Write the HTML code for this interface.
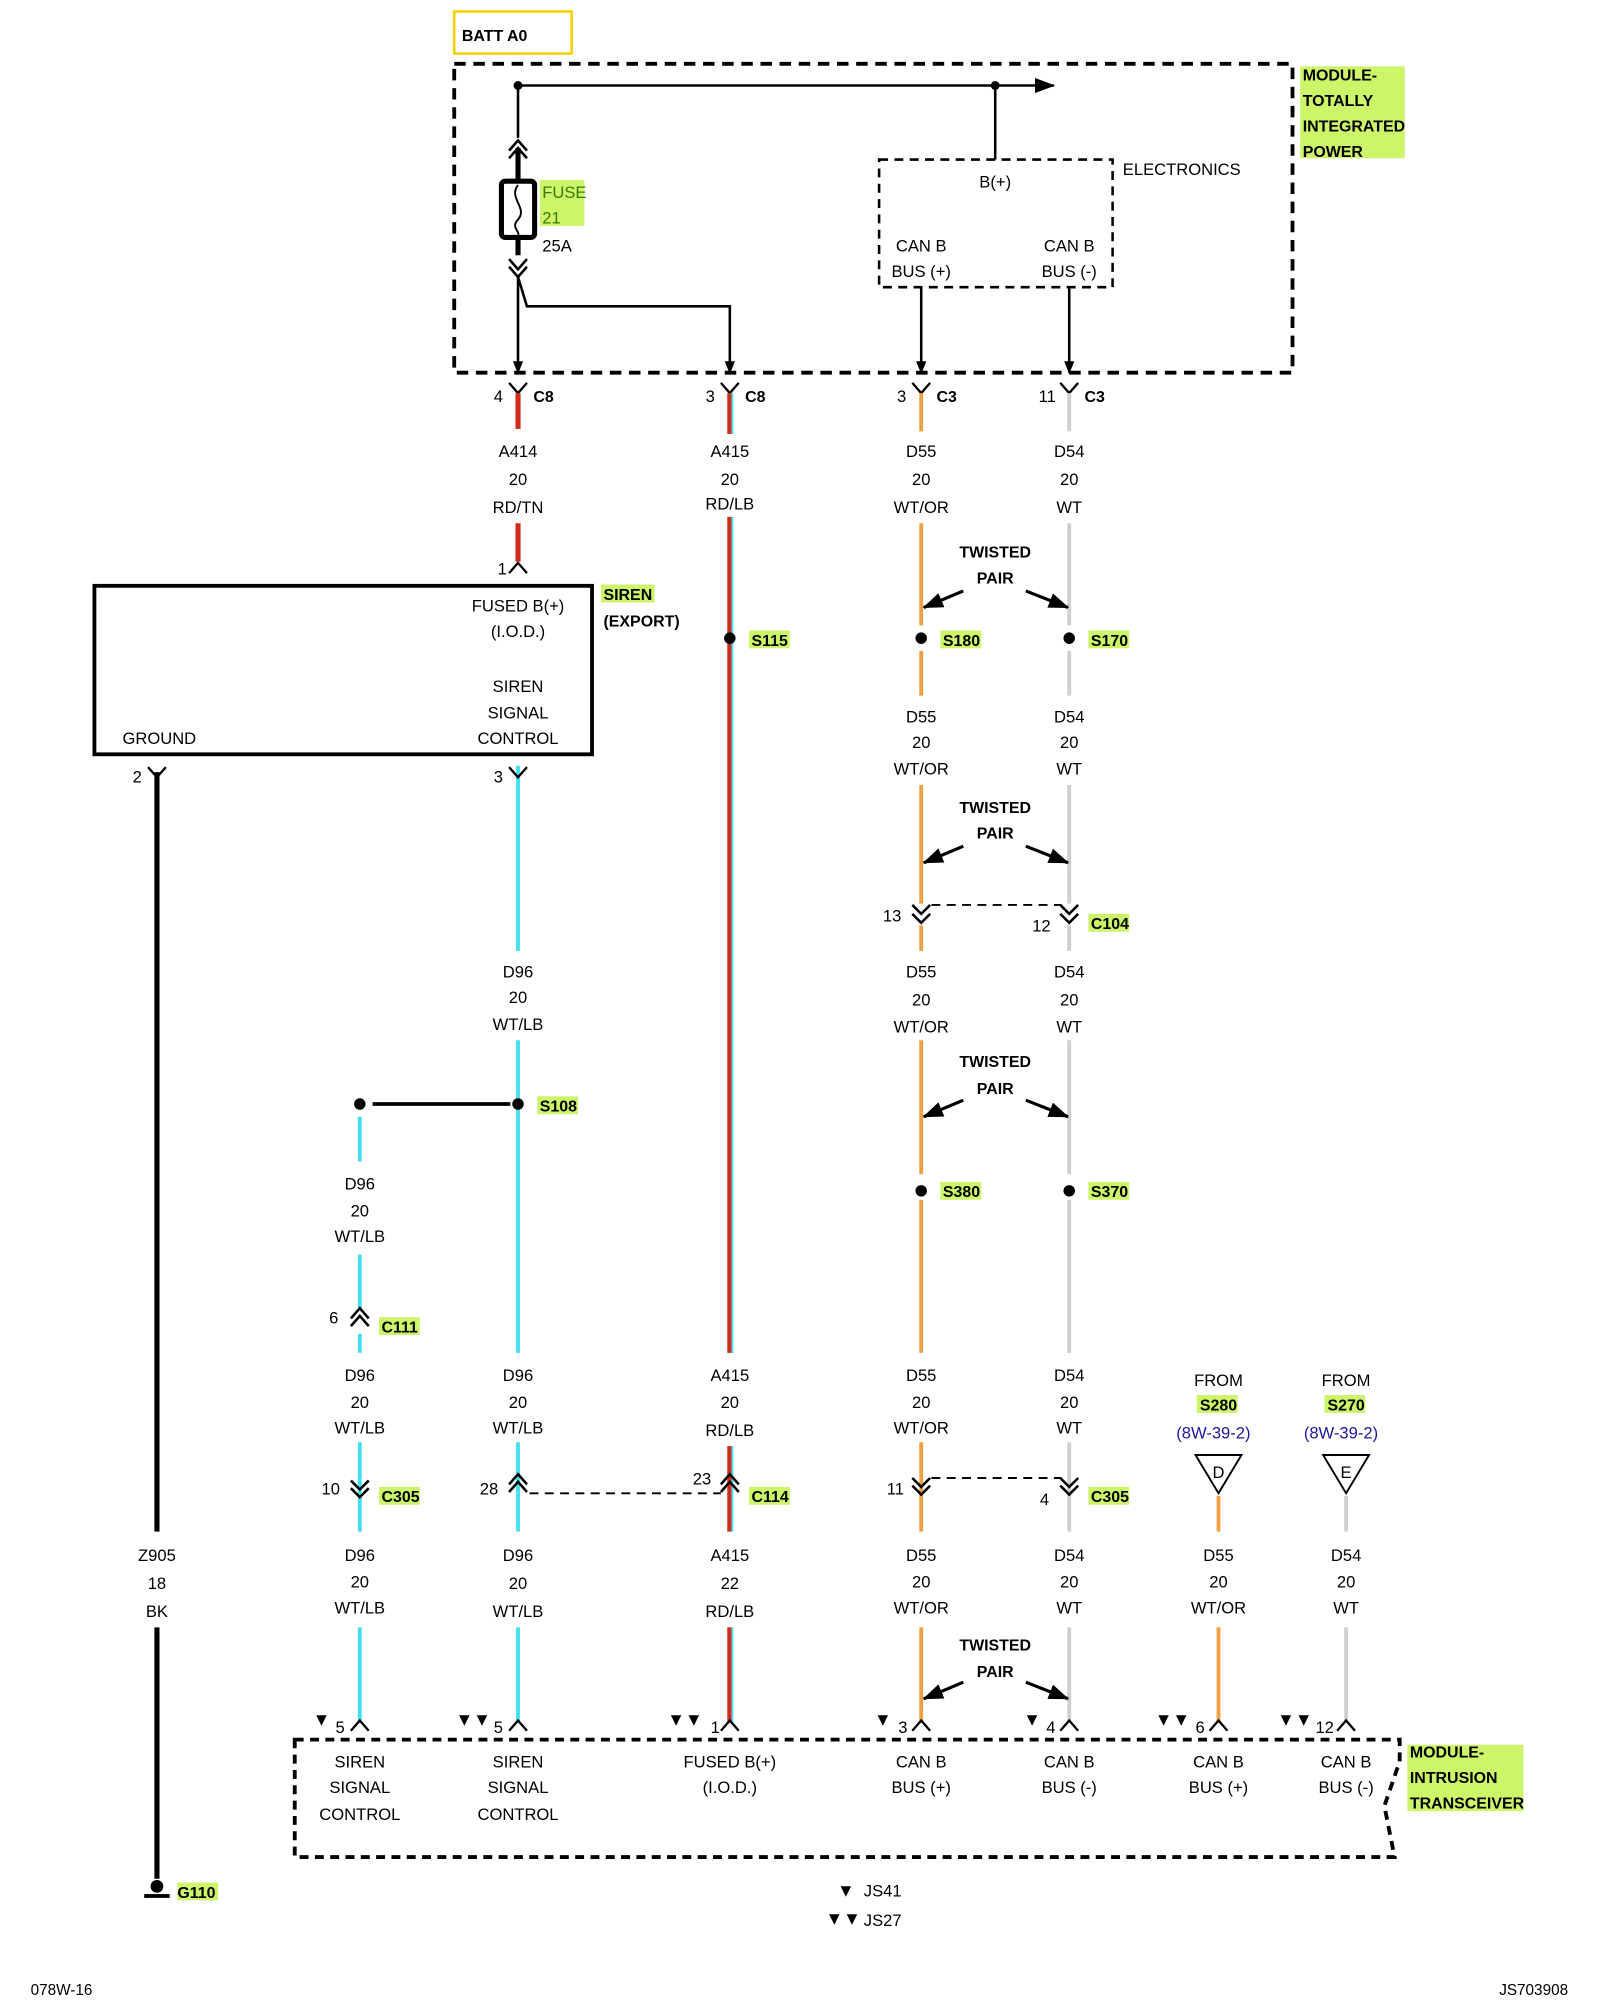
<!DOCTYPE html>
<html><head><meta charset="utf-8"><style>
html,body{margin:0;padding:0;background:#fff}
svg{display:block}
text{font-family:"Liberation Sans",sans-serif;font-size:13px;fill:#000}
.b{font-weight:bold;font-size:12.5px}
.m{text-anchor:middle}
.t{font-size:14px}
</style></head><body>
<svg width="1600" height="2000" viewBox="0 0 1254 1567" preserveAspectRatio="none" xmlns="http://www.w3.org/2000/svg">
<defs>
<marker id="ar" markerWidth="10" markerHeight="8" refX="9" refY="4" orient="auto" markerUnits="userSpaceOnUse"><path d="M0,0 L10,4 L0,8 z" fill="#000"/></marker>
<marker id="ap" markerWidth="16" markerHeight="12" refX="15" refY="6" orient="auto" markerUnits="userSpaceOnUse"><path d="M0,0 L16,6 L0,12 z" fill="#000"/></marker>
</defs>
<g fill="#ccf56a">
<rect x="1019" y="52" width="82" height="72"/>
<rect x="423" y="141" width="35" height="36"/>
<rect x="1103" y="1367" width="91" height="52"/>
<rect x="587" y="494" width="32" height="14"/><rect x="737" y="494" width="32" height="14"/><rect x="853" y="494" width="32" height="14"/>
<rect x="853" y="716" width="32" height="14"/><rect x="421" y="859" width="32" height="14"/>
<rect x="737" y="926" width="32" height="14"/><rect x="853" y="926" width="32" height="14"/>
<rect x="297" y="1032" width="32" height="14"/><rect x="297" y="1165" width="32" height="14"/>
<rect x="587" y="1165" width="32" height="14"/><rect x="853" y="1165" width="32" height="14"/>
<rect x="938" y="1093" width="32" height="14"/><rect x="1038" y="1093" width="32" height="14"/>
<rect x="139" y="1475" width="32" height="14"/><rect x="471" y="458" width="42" height="14"/>
</g>
<rect x="356" y="9" width="92" height="33" fill="none" stroke="#f5d000" stroke-width="2"/>
<text x="362" y="32" class="b">BATT A0</text>
<rect x="356" y="50" width="657" height="242" fill="none" stroke="#000" stroke-width="3" stroke-dasharray="9,6"/>
<text x="1021" y="63" class="b">MODULE-</text><text x="1021" y="83" class="b">TOTALLY</text><text x="1021" y="103" class="b">INTEGRATED</text><text x="1021" y="123" class="b">POWER</text>
<line x1="406" y1="67" x2="826" y2="67" stroke="#000" stroke-width="2" marker-end="url(#ap)"/>
<circle cx="406" cy="67" r="3.5"/><circle cx="780" cy="67" r="3.5"/>
<line x1="780" y1="67" x2="780" y2="125" stroke="#000" stroke-width="2"/>
<rect x="689" y="125" width="183" height="100" fill="none" stroke="#000" stroke-width="2" stroke-dasharray="7,5"/>
<text x="880" y="137">ELECTRONICS</text>
<text x="780" y="147" class="m">B(+)</text>
<text x="722" y="197" class="m">CAN B</text><text x="722" y="217" class="m">BUS (+)</text>
<text x="838" y="197" class="m">CAN B</text><text x="838" y="217" class="m">BUS (-)</text>
<line x1="406" y1="67" x2="406" y2="108" stroke="#000" stroke-width="2"/>
<path d="M399,118 L406,110 L413,118 M399,124 L406,116 L413,124" fill="none" stroke="#000" stroke-width="2"/>
<line x1="406" y1="116" x2="406" y2="200" stroke="#000" stroke-width="4"/>
<rect x="393" y="142" width="26" height="44" rx="3" fill="#fff" stroke="#000" stroke-width="4"/>
<path d="M406,145 C398,155 414,163 406,172 C400,178 408,182 406,184" fill="none" stroke="#000" stroke-width="1.5"/>
<text x="425" y="155" style="fill:#3a7a00">FUSE</text><text x="425" y="175" style="fill:#3a7a00">21</text>
<text x="425" y="197">25A</text>
<path d="M399,203 L406,211 L413,203 M399,209 L406,217 L413,209" fill="none" stroke="#000" stroke-width="2"/>
<line x1="406" y1="217" x2="406" y2="292" stroke="#000" stroke-width="2" marker-end="url(#ar)"/>
<polyline points="406,217 413,240 572,240 572,292" fill="none" stroke="#000" stroke-width="2" marker-end="url(#ar)"/>
<line x1="722" y1="225" x2="722" y2="292" stroke="#000" stroke-width="2" marker-end="url(#ar)"/>
<line x1="838" y1="225" x2="838" y2="292" stroke="#000" stroke-width="2" marker-end="url(#ar)"/>
<g fill="none" stroke="#000" stroke-width="1.8">
<path d="M399,300 L406,308 L413,300"/><path d="M565,300 L572,308 L579,300"/><path d="M715,300 L722,308 L729,300"/><path d="M831,300 L838,308 L845,300"/>
</g>
<text x="387" y="315">4</text><text x="418" y="315" class="b">C8</text>
<text x="553" y="315">3</text><text x="584" y="315" class="b">C8</text>
<text x="703" y="315">3</text><text x="734" y="315" class="b">C3</text>
<text x="814" y="315">11</text><text x="850" y="315" class="b">C3</text>
<g stroke-width="4" fill="none">
<path d="M406,308V336M406,410V440" stroke="#d42a1a"/>
<path d="M572,308V340M572,405V1060M572,1133V1200M572,1275V1350" stroke="#d42a1a"/>
<path d="M722,308V338M722,410V490M722,510V545M722,615V708M722,725V745M722,815V920M722,940V1060M722,1130V1200M722,1275V1350M955,1172V1200M955,1275V1350" stroke="#f0a040" stroke-width="3"/>
<path d="M838,308V338M838,410V490M838,510V545M838,615V708M838,725V745M838,815V920M838,940V1060M838,1130V1200M838,1275V1350M1055,1172V1200M1055,1275V1350" stroke="#cfcfcf" stroke-width="3"/>
<path d="M406,600V745M406,815V1060M406,1130V1200M406,1275V1350M282,875V910M282,983V1025M282,1045V1060M282,1130V1200M282,1275V1350" stroke="#40e0ee" stroke-width="3"/>
</g>
<path d="M574,308V340M574,405V1060M574,1133V1200M574,1275V1350" stroke="#40e0ee" stroke-width="1.5"/>
<path d="M123,605V1200M123,1275V1472" stroke="#000" stroke-width="4"/>
<circle cx="123" cy="1478" r="5"/><rect x="113" y="1484" width="20" height="3"/>
<text x="139" y="1487" class="b">G110</text>
<g>
<text x="406" y="358" class="m">A414</text><text x="406" y="380" class="m">20</text><text x="406" y="402" class="m">RD/TN</text>
<text x="572" y="358" class="m">A415</text><text x="572" y="380" class="m">20</text><text x="572" y="399" class="m">RD/LB</text>
<text x="722" y="358" class="m">D55</text><text x="722" y="380" class="m">20</text><text x="722" y="402" class="m">WT/OR</text>
<text x="838" y="358" class="m">D54</text><text x="838" y="380" class="m">20</text><text x="838" y="402" class="m">WT</text>
<text x="722" y="566" class="m">D55</text><text x="722" y="586" class="m">20</text><text x="722" y="607" class="m">WT/OR</text>
<text x="838" y="566" class="m">D54</text><text x="838" y="586" class="m">20</text><text x="838" y="607" class="m">WT</text>
<text x="722" y="766" class="m">D55</text><text x="722" y="788" class="m">20</text><text x="722" y="809" class="m">WT/OR</text>
<text x="838" y="766" class="m">D54</text><text x="838" y="788" class="m">20</text><text x="838" y="809" class="m">WT</text>
<text x="406" y="766" class="m">D96</text><text x="406" y="786" class="m">20</text><text x="406" y="807" class="m">WT/LB</text>
<text x="282" y="932" class="m">D96</text><text x="282" y="953" class="m">20</text><text x="282" y="973" class="m">WT/LB</text>
<text x="282" y="1082" class="m">D96</text><text x="282" y="1103" class="m">20</text><text x="282" y="1123" class="m">WT/LB</text>
<text x="406" y="1082" class="m">D96</text><text x="406" y="1103" class="m">20</text><text x="406" y="1123" class="m">WT/LB</text>
<text x="572" y="1082" class="m">A415</text><text x="572" y="1103" class="m">20</text><text x="572" y="1125" class="m">RD/LB</text>
<text x="722" y="1082" class="m">D55</text><text x="722" y="1103" class="m">20</text><text x="722" y="1123" class="m">WT/OR</text>
<text x="838" y="1082" class="m">D54</text><text x="838" y="1103" class="m">20</text><text x="838" y="1123" class="m">WT</text>
<text x="123" y="1223" class="m">Z905</text><text x="123" y="1245" class="m">18</text><text x="123" y="1267" class="m">BK</text>
<text x="282" y="1223" class="m">D96</text><text x="282" y="1244" class="m">20</text><text x="282" y="1264" class="m">WT/LB</text>
<text x="406" y="1223" class="m">D96</text><text x="406" y="1245" class="m">20</text><text x="406" y="1267" class="m">WT/LB</text>
<text x="572" y="1223" class="m">A415</text><text x="572" y="1245" class="m">22</text><text x="572" y="1267" class="m">RD/LB</text>
<text x="722" y="1223" class="m">D55</text><text x="722" y="1244" class="m">20</text><text x="722" y="1264" class="m">WT/OR</text>
<text x="838" y="1223" class="m">D54</text><text x="838" y="1244" class="m">20</text><text x="838" y="1264" class="m">WT</text>
<text x="955" y="1223" class="m">D55</text><text x="955" y="1244" class="m">20</text><text x="955" y="1264" class="m">WT/OR</text>
<text x="1055" y="1223" class="m">D54</text><text x="1055" y="1244" class="m">20</text><text x="1055" y="1264" class="m">WT</text>
</g>
<rect x="74" y="459" width="390" height="132" fill="none" stroke="#000" stroke-width="3"/>
<path d="M399,449 L406,441 L413,449" fill="none" stroke="#000" stroke-width="1.8"/><text x="390" y="450">1</text>
<text x="406" y="479" class="m">FUSED B(+)</text><text x="406" y="499" class="m">(I.O.D.)</text>
<text x="406" y="542" class="m">SIREN</text><text x="406" y="563" class="m">SIGNAL</text><text x="406" y="583" class="m">CONTROL</text>
<text x="96" y="583">GROUND</text>
<text x="473" y="470" class="b">SIREN</text><text x="473" y="491" class="b">(EXPORT)</text>
<g fill="none" stroke="#000" stroke-width="1.8"><path d="M116,601 L123,609 L130,601"/><path d="M399,601 L406,609 L413,601"/></g>
<text x="104" y="613">2</text><text x="387" y="613">3</text>
<g><circle cx="572" cy="500" r="4.5"/><circle cx="722" cy="500" r="4.5"/><circle cx="838" cy="500" r="4.5"/>
<circle cx="722" cy="933" r="4.5"/><circle cx="838" cy="933" r="4.5"/><circle cx="406" cy="865" r="4.5"/><circle cx="282" cy="865" r="4.5"/></g>
<line x1="292" y1="865" x2="400" y2="865" stroke="#000" stroke-width="3"/>
<text x="589" y="506" class="b">S115</text><text x="739" y="506" class="b">S180</text><text x="855" y="506" class="b">S170</text>
<text x="423" y="871" class="b">S108</text><text x="739" y="938" class="b">S380</text><text x="855" y="938" class="b">S370</text>
<g>
<text x="780" y="437" class="b m">TWISTED</text><text x="780" y="457" class="b m">PAIR</text>
<line x1="755" y1="463" x2="724" y2="476" stroke="#000" stroke-width="2.5" marker-end="url(#ap)"/><line x1="804" y1="463" x2="837" y2="476" stroke="#000" stroke-width="2.5" marker-end="url(#ap)"/>
<text x="780" y="637" class="b m">TWISTED</text><text x="780" y="657" class="b m">PAIR</text>
<line x1="755" y1="663" x2="724" y2="676" stroke="#000" stroke-width="2.5" marker-end="url(#ap)"/><line x1="804" y1="663" x2="837" y2="676" stroke="#000" stroke-width="2.5" marker-end="url(#ap)"/>
<text x="780" y="836" class="b m">TWISTED</text><text x="780" y="857" class="b m">PAIR</text>
<line x1="755" y1="862" x2="724" y2="875" stroke="#000" stroke-width="2.5" marker-end="url(#ap)"/><line x1="804" y1="862" x2="837" y2="875" stroke="#000" stroke-width="2.5" marker-end="url(#ap)"/>
<text x="780" y="1293" class="b m">TWISTED</text><text x="780" y="1314" class="b m">PAIR</text>
<line x1="755" y1="1318" x2="724" y2="1331" stroke="#000" stroke-width="2.5" marker-end="url(#ap)"/><line x1="804" y1="1318" x2="837" y2="1331" stroke="#000" stroke-width="2.5" marker-end="url(#ap)"/>
</g>
<g fill="none" stroke="#000" stroke-width="2">
<path d="M715,709 L722,716 L729,709 M715,716 L722,723 L729,716"/>
<path d="M831,709 L838,716 L845,709 M831,716 L838,723 L845,716"/>
<path d="M275,1033 L282,1025 L289,1033 M275,1039 L282,1031 L289,1039"/>
<path d="M275,1160 L282,1167 L289,1160 M275,1166 L282,1173 L289,1166"/>
<path d="M399,1163 L406,1155 L413,1163 M399,1169 L406,1161 L413,1169"/>
<path d="M565,1163 L572,1155 L579,1163 M565,1169 L572,1161 L579,1169"/>
<path d="M715,1158 L722,1165 L729,1158 M715,1164 L722,1171 L729,1164"/>
<path d="M831,1158 L838,1165 L845,1158 M831,1164 L838,1171 L845,1164"/>
</g>
<g stroke="#000" stroke-width="1.5" stroke-dasharray="7,5" fill="none">
<line x1="730" y1="709" x2="832" y2="709"/><line x1="730" y1="1158" x2="832" y2="1158"/><line x1="415" y1="1170" x2="565" y2="1170"/>
</g>
<text x="692" y="722">13</text><text x="809" y="730">12</text><text x="855" y="728" class="b">C104</text>
<text x="258" y="1037">6</text><text x="299" y="1044" class="b">C111</text>
<text x="252" y="1171">10</text><text x="299" y="1177" class="b">C305</text>
<text x="376" y="1171">28</text><text x="543" y="1163">23</text><text x="589" y="1177" class="b">C114</text>
<text x="695" y="1171">11</text><text x="815" y="1179">4</text><text x="855" y="1177" class="b">C305</text>
<text x="955" y="1086" class="m">FROM</text><text x="955" y="1105" class="b m">S280</text><text x="951" y="1127" class="m" style="fill:#1a1aa0">(8W-39-2)</text>
<text x="1055" y="1086" class="m">FROM</text><text x="1055" y="1105" class="b m">S270</text><text x="1051" y="1127" class="m" style="fill:#1a1aa0">(8W-39-2)</text>
<path d="M937,1140 L973,1140 L955,1170 Z M1037,1140 L1073,1140 L1055,1170 Z" fill="#fff" stroke="#000" stroke-width="1.5"/>
<text x="955" y="1158" class="m">D</text><text x="1055" y="1158" class="m">E</text>
<g fill="none" stroke="#000" stroke-width="1.8">
<path d="M275,1356 L282,1348 L289,1356"/><path d="M399,1356 L406,1348 L413,1356"/><path d="M565,1356 L572,1348 L579,1356"/><path d="M715,1356 L722,1348 L729,1356"/><path d="M831,1356 L838,1348 L845,1356"/><path d="M948,1356 L955,1348 L962,1356"/><path d="M1048,1356 L1055,1348 L1062,1356"/>
</g>
<text x="263" y="1358">5</text><text x="387" y="1358">5</text><text x="557" y="1358">1</text><text x="704" y="1358">3</text><text x="820" y="1358">4</text><text x="937" y="1358">6</text><text x="1031" y="1358">12</text>
<g><text x="245" y="1352" class="t">▼</text><text x="357" y="1352" class="t">▼▼</text><text x="523" y="1352" class="t">▼▼</text><text x="685" y="1352" class="t">▼</text><text x="802" y="1352" class="t">▼</text><text x="905" y="1352" class="t">▼▼</text><text x="1001" y="1352" class="t">▼▼</text></g>
<path d="M231,1363 L1097,1363 L1097,1380 L1085,1415 L1093,1455 L231,1455 Z" fill="none" stroke="#000" stroke-width="3" stroke-dasharray="7,5"/>
<text x="282" y="1385" class="m">SIREN</text><text x="282" y="1405" class="m">SIGNAL</text><text x="282" y="1426" class="m">CONTROL</text>
<text x="406" y="1385" class="m">SIREN</text><text x="406" y="1405" class="m">SIGNAL</text><text x="406" y="1426" class="m">CONTROL</text>
<text x="572" y="1385" class="m">FUSED B(+)</text><text x="572" y="1405" class="m">(I.O.D.)</text>
<text x="722" y="1385" class="m">CAN B</text><text x="722" y="1405" class="m">BUS (+)</text>
<text x="838" y="1385" class="m">CAN B</text><text x="838" y="1405" class="m">BUS (-)</text>
<text x="955" y="1385" class="m">CAN B</text><text x="955" y="1405" class="m">BUS (+)</text>
<text x="1055" y="1385" class="m">CAN B</text><text x="1055" y="1405" class="m">BUS (-)</text>
<text x="1105" y="1377" class="b">MODULE-</text><text x="1105" y="1397" class="b">INTRUSION</text><text x="1105" y="1417" class="b">TRANSCEIVER</text>
<text x="656" y="1486" class="t">▼</text><text x="677" y="1486">JS41</text>
<text x="647" y="1508" class="t">▼▼</text><text x="677" y="1509">JS27</text>
<text x="24" y="1563" style="font-size:12px">078W-16</text>
<text x="1175" y="1563" style="font-size:12px">JS703908</text>
</svg>
</body></html>
